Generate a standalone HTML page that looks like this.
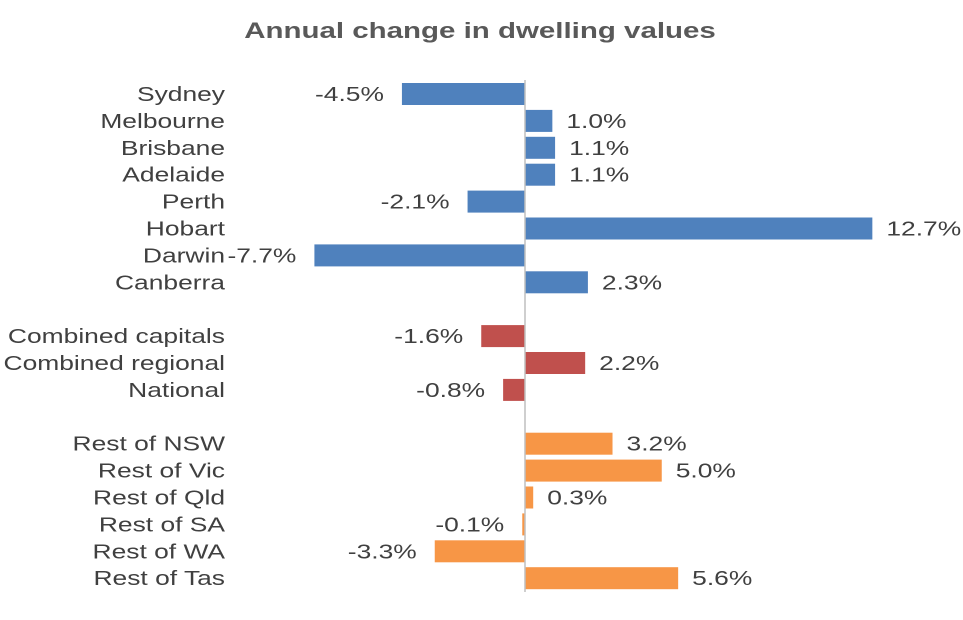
<!DOCTYPE html>
<html><head><meta charset="utf-8"><style>
body{margin:0;background:#fff;}
svg text{font-family:"Liberation Sans",Arial,sans-serif;}
</style></head><body>
<svg width="963" height="615" viewBox="0 0 963 615" xmlns="http://www.w3.org/2000/svg">
<text transform="translate(480,38) scale(1.34,1)" text-anchor="middle" font-size="22" font-weight="bold" fill="#595959">Annual change in dwelling values</text>
<g id="bars"></g>
<line x1="525" y1="80" x2="525" y2="592" stroke="#bfbfbf" stroke-width="1.5"/>
</svg>
<script>
const categories=["Sydney","Melbourne","Brisbane","Adelaide","Perth","Hobart","Darwin","Canberra","","Combined capitals","Combined regional","National","","Rest of NSW","Rest of Vic","Rest of Qld","Rest of SA","Rest of WA","Rest of Tas"];
const values=[-4.5,1.0,1.1,1.1,-2.1,12.7,-7.7,2.3,null,-1.6,2.2,-0.8,null,3.2,5.0,0.3,-0.1,-3.3,5.6];
const groups=["capital","capital","capital","capital","capital","capital","capital","capital","","summary","summary","summary","","regional","regional","regional","regional","regional","regional"];
const colors={capital:"#4F81BD",summary:"#C0504D",regional:"#F79646"};
const x0=525, pxPer=27.35, y0=94, pitch=26.9, bh=22, sx=1.32;
const xs=v=>x0+v*pxPer;
const ys=i=>y0+i*pitch;
const g=document.getElementById('bars');
const NS="http://www.w3.org/2000/svg";
categories.forEach((c,i)=>{
  const v=values[i]; if(v===null) return;
  const y=ys(i);
  const r=document.createElementNS(NS,'rect');
  
  
  r.setAttribute('x',Math.min(xs(0),xs(v)));r.setAttribute('y',y-bh/2);
  r.setAttribute('width',Math.abs(xs(v)-xs(0)));r.setAttribute('height',bh);
  r.setAttribute('fill',colors[groups[i]]);g.appendChild(r);
  const t=document.createElementNS(NS,'text');
  
  
  t.setAttribute('transform','translate(225,'+(y+7)+') scale('+sx+',1)');t.setAttribute('text-anchor','end');
  t.setAttribute('font-size','20');t.setAttribute('fill','#404040');t.textContent=c;g.appendChild(t);
  const l=document.createElementNS(NS,'text');
  
  
  let lx;
  if(v>=0){lx=xs(v)+14;l.setAttribute('text-anchor','start');}
  else{lx=Math.min(xs(v),xs(0)-2)-18;l.setAttribute('text-anchor','end');}
  l.setAttribute('transform','translate('+lx+','+(y+7)+') scale('+sx+',1)');
  l.setAttribute('font-size','20');l.setAttribute('fill','#404040');
  l.textContent=v.toFixed(1)+'%';g.appendChild(l);
});
</script>
</body></html>
